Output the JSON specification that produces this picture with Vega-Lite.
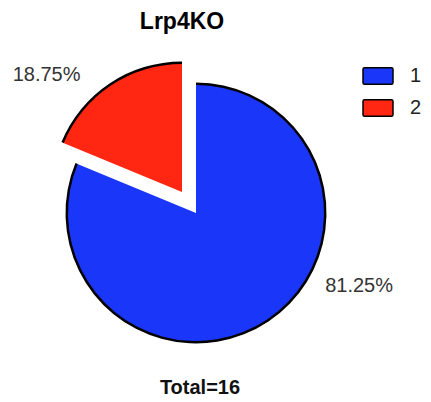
{
  "$schema": "https://vega.github.io/schema/vega-lite/v6.json",
  "width": 392,
  "height": 306,
  "autosize": {"type": "none"},
  "padding": {"left": 0, "top": 60, "right": 39, "bottom": 36},
  "title": {
    "text": "Lrp4KO",
    "font": "Liberation Sans",
    "fontSize": 23,
    "fontWeight": "bold",
    "color": "#000000",
    "frame": "group",
    "dx": -14,
    "offset": -16
  },
  "config": {"view": {"stroke": null}},
  "layer": [
    {
      "data": {
        "values": [
          {"group": "1", "count": 13, "share": 0.8125},
          {"group": "2", "count": 3, "share": 0.1875}
        ]
      },
      "encoding": {
        "theta": {"field": "share", "type": "quantitative", "stack": true},
        "order": {"field": "group", "type": "ordinal"},
        "detail": {"field": "group"}
      },
      "layer": [
        {
          "mark": {"type": "arc", "radius": 129},
          "encoding": {
            "color": {
              "field": "group",
              "type": "nominal",
              "scale": {"domain": ["1", "2"], "range": ["#1A36F8", "#FF2612"]},
              "legend": {
                "title": null,
                "orient": "right",
                "offset": -30,
                "symbolType": "M-0.9,-0.55H0.9Q1,-0.55 1,-0.45V0.45Q1,0.55 0.9,0.55H-0.9Q-1,0.55 -1,0.45V-0.45Q-1,-0.55 -0.9,-0.55Z",
                "symbolSize": 900,
                "symbolStrokeColor": "#000000",
                "symbolStrokeWidth": 1.5,
                "symbolOpacity": 1,
                "labelFont": "Liberation Sans",
                "labelFontSize": 20,
                "labelColor": "#222222",
                "labelOffset": 16,
                "rowPadding": 4
              }
            },
            "opacity": {"condition": {"test": "datum.group === '2'", "value": 0}, "value": 1}
          }
        },
        {
          "mark": {"type": "arc", "radius": 130.5, "radius2": 128},
          "encoding": {
            "color": {"value": "#000000"},
            "opacity": {"condition": {"test": "datum.group === '2'", "value": 0}, "value": 1}
          }
        },
        {
          "mark": {"type": "arc", "radius": 129, "xOffset": -14, "yOffset": -21},
          "encoding": {
            "color": {"field": "group", "type": "nominal"},
            "opacity": {"condition": {"test": "datum.group === '1'", "value": 0}, "value": 1}
          }
        },
        {
          "mark": {"type": "arc", "radius": 130.5, "radius2": 128, "xOffset": -14, "yOffset": -21},
          "encoding": {
            "color": {"value": "#000000"},
            "opacity": {"condition": {"test": "datum.group === '1'", "value": 0}, "value": 1}
          }
        },
        {
          "mark": {
            "type": "text",
            "radius": 155,
            "dx": 77,
            "dy": -56,
            "font": "Liberation Sans",
            "fontSize": 20,
            "color": "#333333",
            "align": "center",
            "baseline": "middle"
          },
          "encoding": {
            "text": {"field": "share", "type": "quantitative", "format": ".2%"},
            "opacity": {"condition": {"test": "datum.group === '2'", "value": 0}, "value": 1}
          }
        },
        {
          "mark": {
            "type": "text",
            "radius": 197,
            "dx": -40,
            "dy": 26,
            "font": "Liberation Sans",
            "fontSize": 20,
            "color": "#333333",
            "align": "center",
            "baseline": "middle"
          },
          "encoding": {
            "text": {"field": "share", "type": "quantitative", "format": ".2%"},
            "opacity": {"condition": {"test": "datum.group === '1'", "value": 0}, "value": 1}
          }
        }
      ]
    },
    {
      "data": {"values": [{"label": "Total=16"}]},
      "mark": {
        "type": "text",
        "dx": 4,
        "dy": 175,
        "font": "Liberation Sans",
        "fontSize": 20,
        "fontWeight": "bold",
        "color": "#111111",
        "align": "center",
        "baseline": "middle"
      },
      "encoding": {"text": {"field": "label", "type": "nominal"}}
    }
  ]
}
